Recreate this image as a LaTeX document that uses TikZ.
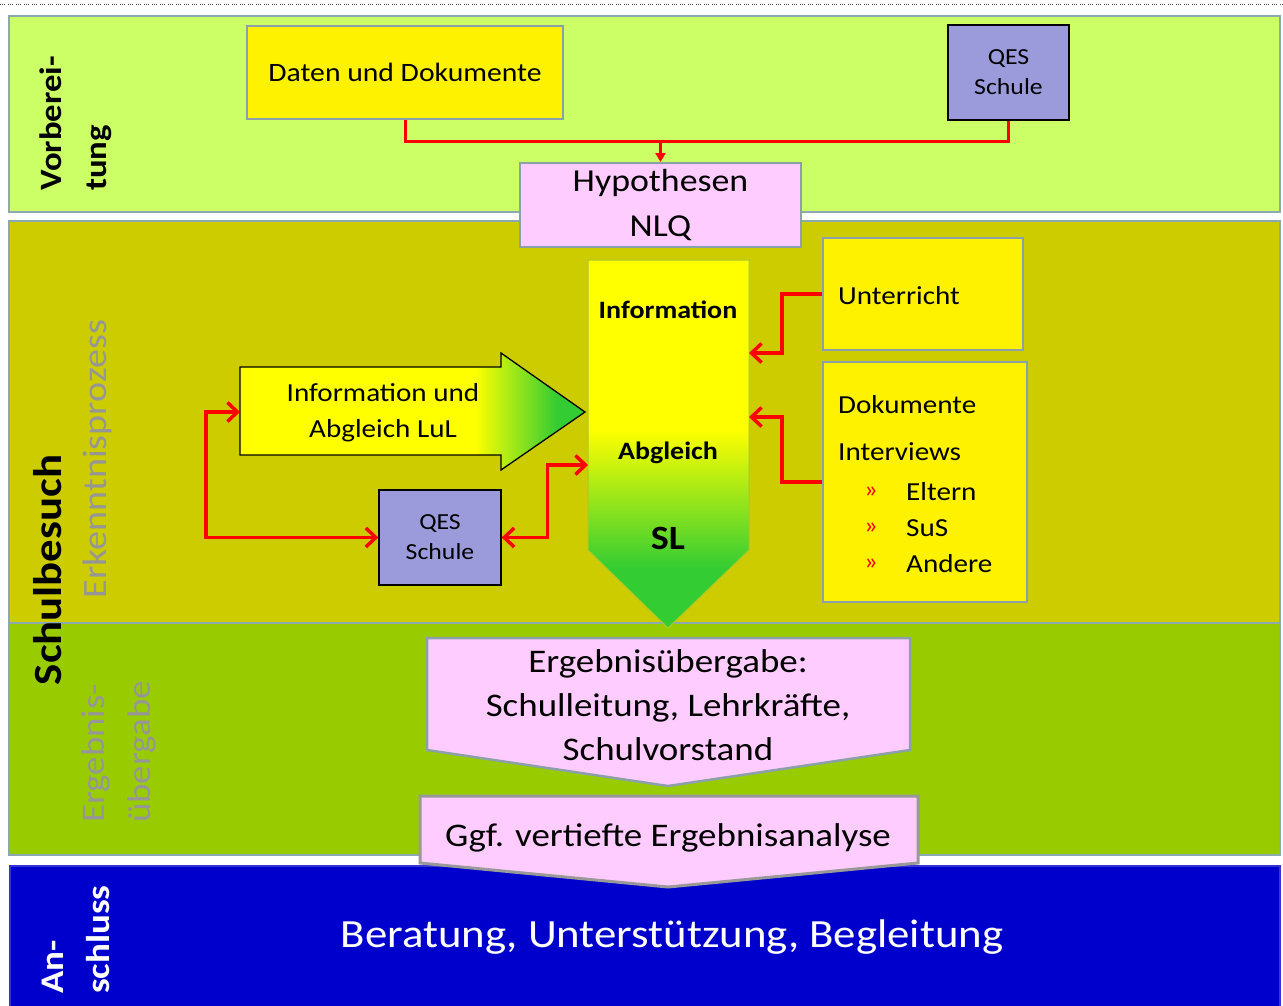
\documentclass[tikz,border=0pt]{standalone}
\usepackage{fontspec}
\setmainfont{Carlito}[FakeStretch=1.12]
\usetikzlibrary{arrows.meta}
\definecolor{bandA}{HTML}{CCFF66}
\definecolor{bandB}{HTML}{CCCC00}
\definecolor{bandC}{HTML}{99CC00}
\definecolor{bandD}{HTML}{0000CC}
\definecolor{bandline}{RGB}{140,168,176}
\definecolor{boxline}{RGB}{140,160,170}
\definecolor{pinkf}{HTML}{FFCCFF}
\definecolor{qesf}{RGB}{155,155,220}
\definecolor{sgreen}{HTML}{33CC33}
\definecolor{lblgray}{RGB}{150,150,150}
\definecolor{slline}{RGB}{170,200,40}
\pgfdeclareverticalshading{slshade}{100bp}{color(0bp)=(sgreen); color(33bp)=(sgreen); color(52bp)=(yellow); color(100bp)=(yellow)}
\pgfdeclarehorizontalshading{lulshade}{100bp}{color(0bp)=(yellow); color(59bp)=(yellow); color(71bp)=(sgreen); color(100bp)=(sgreen)}
\newcommand\fsz[2]{\fontsize{#1}{#2}\selectfont}
\begin{document}
\begin{tikzpicture}[x=1pt,y=-1pt,
  band/.style={draw=bandline,line width=2.5pt},
  ybox/.style={draw=boxline,line width=2.5pt,fill=yellow,inner sep=0pt},
  qbox/.style={draw=black,line width=1.3pt,fill=qesf,inner sep=0pt,align=center,font=\fsz{23}{30}},
  link/.style={draw=red,line width=3.5pt},
  barb/.style={-{Straight Barb[length=10pt,width=19pt]}},
  dbarb/.style={{Straight Barb[length=10pt,width=19pt]}-{Straight Barb[length=10pt,width=19pt]}},
  txt/.style={inner sep=0pt,font=\fsz{26}{30}},
  vlbl/.style={rotate=90,inner sep=0pt}]
\useasboundingbox (0,0) rectangle (1283,1005);
\fill[white] (0,0) rectangle (1283,1005);
% top dotted line
\draw[line width=1pt,black!70,dash pattern=on 1pt off 1pt on 1pt off 1pt on 1pt off 3pt] (0,4) -- (1283,4);
% bands
\path[band,fill=bandA] (9,16) rectangle (1280,212);
\path[band,fill=bandB] (9,221) rectangle (1280,623);
\path[band,fill=bandC] (9,623) rectangle (1280,855);
\path[band,fill=bandD,draw=bandD!80!white] (10,866) rectangle (1280,1010);
% band labels
\node[vlbl,anchor=west,align=left,font=\bfseries\fsz{31}{45}] (lblV) at (76,191) {Vorberei-\\tung};
\node[vlbl,font=\bfseries\fsz{40}{46}] (lblS) at (48,570) {Schulbesuch};
\node[vlbl,font=\fsz{34}{40},text=lblgray] (lblE) at (97,459) {Erkenntnisprozess};
\node[vlbl,anchor=west,align=left,font=\fsz{33}{46},text=lblgray] (lblU) at (119,823) {Ergebnis-\\übergabe};
\node[vlbl,anchor=west,align=left,font=\bfseries\fsz{33}{46},text=white] (lblA) at (76,994) {An-\\schluss};
% top row
\node[ybox,minimum width=316pt,minimum height=93pt,font=\fsz{26.5}{30}] (daten) at (405,72.5) {Daten und Dokumente};
\node[qbox,minimum width=121pt,minimum height=95pt] (qes1) at (1008.5,72.5) {QES\\Schule};
\coordinate (jn) at (660.5,141);
\draw[link,line width=3pt] (daten.south) |- (jn) -| (qes1.south);
\draw[link,line width=3pt,-{Triangle[length=9pt,width=10pt]}] (jn) -- (660.5,162);
\node[draw=boxline,line width=2.5pt,fill=pinkf,minimum width=281pt,minimum height=84pt,align=center,font=\fsz{32}{44},inner sep=0pt] (hyp) at (660.5,205) {Hypothesen\\NLQ};
% SL arrow
\shadedraw[shading=slshade,draw=slline,line width=1pt] (588,260) -- (749,260) -- (749,550) -- (668,628) -- (588,550) -- cycle;
\node[font=\bfseries\fsz{25}{30},inner sep=0pt] (tinfo) at (668,310) {Information};
\node[font=\bfseries\fsz{25}{30},inner sep=0pt] (tabg) at (668,453) {Abgleich};
\node[font=\bfseries\fsz{34}{40},inner sep=0pt] (tsl) at (668,538) {SL};
\coordinate (slE1) at (749,353);
\coordinate (slE2) at (749,417);
\coordinate (slW1) at (588,465);
% right boxes
\node[ybox,minimum width=200pt,minimum height=112pt] (unt) at (923,294) {};
\node[txt,anchor=west] (tunt) at (838,296) {Unterricht};
\node[ybox,minimum width=204pt,minimum height=240pt] (dok) at (925,482) {};
\node[txt,anchor=west] (tdok) at (838,405) {Dokumente};
\node[txt,anchor=west] (tint) at (838,452) {Interviews};
\node[txt,anchor=west,font=\fsz{24}{28},text=red] (b1) at (864,492) {»};
\node[txt,anchor=west,font=\fsz{24}{28},text=red] (b2) at (864,528) {»};
\node[txt,anchor=west,font=\fsz{24}{28},text=red] (b3) at (864,564) {»};
\node[txt,anchor=west] (tel) at (906,492) {Eltern};
\node[txt,anchor=west] (tsus) at (906,528) {SuS};
\node[txt,anchor=west] (tand) at (906,564) {Andere};
\draw[link,barb] (unt.west) -- ++(-40,0) |- (slE1);
\draw[link,barb] (dok.west) -- ++(-40,0) |- (slE2);
% horizontal arrow
\shadedraw[shading=lulshade,draw=black,line width=1.3pt] (240,367) -- (501,367) -- (501,353) -- (585,412) -- (501,470) -- (501,455) -- (240,455) -- cycle;
\node[align=center,font=\fsz{26}{36},inner sep=0pt] (tlul) at (383,413) {Information und\\Abgleich LuL};
\coordinate (lulW) at (240,412);
\node[qbox,minimum width=122pt,minimum height=95pt] (qes2) at (440,537.5) {QES\\Schule};
\coordinate (lk) at (206,0);
\draw[link,dbarb] (lulW) -| (lk |- qes2.west) -- (qes2.west);
\draw[link,dbarb] (qes2.east) -- ++(46,0) |- (slW1);
% Ergebnisuebergabe
\filldraw[fill=pinkf,draw=boxline,line width=2.5pt] (427,638) -- (910,638) -- (910,750) -- (668,786) -- (427,750) -- cycle;
\node[align=center,font=\fsz{33}{44},inner sep=0pt] (terg) at (668,705) {Ergebnisübergabe:\\Schulleitung, Lehrkräfte,\\Schulvorstand};
\filldraw[fill=pinkf,draw=black!40,line width=3pt] (420,796) -- (918,796) -- (918,863) -- (668,887) -- (420,863) -- cycle;
\node[font=\fsz{33}{40},inner sep=0pt] (tggf) at (668,838) {Ggf. vertiefte Ergebnisanalyse};
% bottom
\node[font=\fsz{40}{48},text=white,inner sep=0pt] (tber) at (672,937) {Beratung, Unterstützung, Begleitung};
\end{tikzpicture}
\end{document}
